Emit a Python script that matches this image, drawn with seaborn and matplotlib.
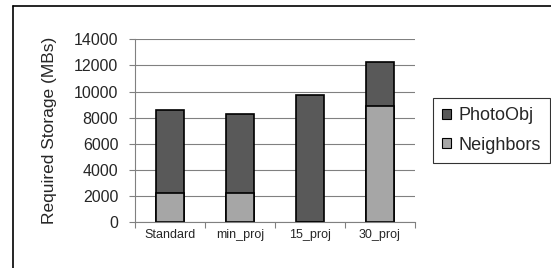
import numpy as np
import pandas as pd
import seaborn as sns
import matplotlib.pyplot as plt
from matplotlib.lines import Line2D
from matplotlib.patches import Patch

sns.set_theme(style="white")
plt.rcParams["font.family"] = ["Liberation Sans", "DejaVu Sans"]

categories = ["Standard", "min_proj", "15_proj", "30_proj"]
neighbors = [2200, 2200, 0, 8900]
photoobj = [6370, 6060, 9700, 3400]

df = pd.DataFrame({"config": categories, "Neighbors": neighbors, "PhotoObj": photoobj})
df["total"] = df["Neighbors"] + df["PhotoObj"]

dark = "#595959"
light = "#a6a6a6"

fig = plt.figure(figsize=(5.51, 2.68), dpi=100)
ax = fig.add_axes([0.245, 0.172, 0.508, 0.681])

sns.barplot(data=df, x="config", y="total", color=dark, width=0.39,
            edgecolor="black", linewidth=1.2, saturation=1, ax=ax)
sns.barplot(data=df, x="config", y="Neighbors", color=light, width=0.39,
            edgecolor="black", linewidth=1.2, saturation=1, ax=ax)

ax.set_ylim(0, 14000)
ax.set_xlim(-0.5, 3.5)
ax.set_yticks(np.arange(0, 14001, 2000))
ax.yaxis.grid(True, color="#808080", linewidth=0.8)
ax.set_axisbelow(True)
for s in ["top", "right"]:
    ax.spines[s].set_visible(False)
for s in ["left", "bottom"]:
    ax.spines[s].set_color("#808080")
    ax.spines[s].set_linewidth(0.8)

ax.tick_params(axis="y", labelsize=11.5, length=4, width=0.8, color="#808080",
               direction="out", left=True, pad=8)
ax.set_xticks(range(len(categories)))
ax.set_xticklabels(categories, fontsize=9)
ax.set_xticks(np.arange(-0.5, 3.6, 1), minor=True)
ax.tick_params(axis="x", which="major", length=0, pad=5)
ax.tick_params(axis="x", which="minor", length=4, width=0.8, color="#808080",
               direction="out", bottom=True)
ax.set_xlabel("")
ax.set_ylabel("Required Storage (MBs)", fontsize=12.5, labelpad=12)

handles = [Patch(facecolor=dark, edgecolor="black", linewidth=0.8, label="PhotoObj"),
           Patch(facecolor=light, edgecolor="black", linewidth=0.8, label="Neighbors")]
leg = fig.legend(handles=handles, loc="upper left", bbox_to_anchor=(0.786, 0.634),
                 fontsize=13, frameon=True, fancybox=False, handlelength=0.5,
                 handleheight=0.5, handletextpad=0.4, borderpad=0.5,
                 labelspacing=0.7, borderaxespad=0)
leg.get_frame().set_edgecolor("black")
leg.get_frame().set_linewidth(0.8)

# outer chart border (left and top visible)
fig.add_artist(Line2D([13 / 551, 13 / 551], [0, 1 - 6 / 268], color="black", linewidth=1.2))
fig.add_artist(Line2D([13 / 551, 1], [1 - 6 / 268, 1 - 6 / 268], color="black", linewidth=1.2))

fig.savefig("out.png", dpi=100)
